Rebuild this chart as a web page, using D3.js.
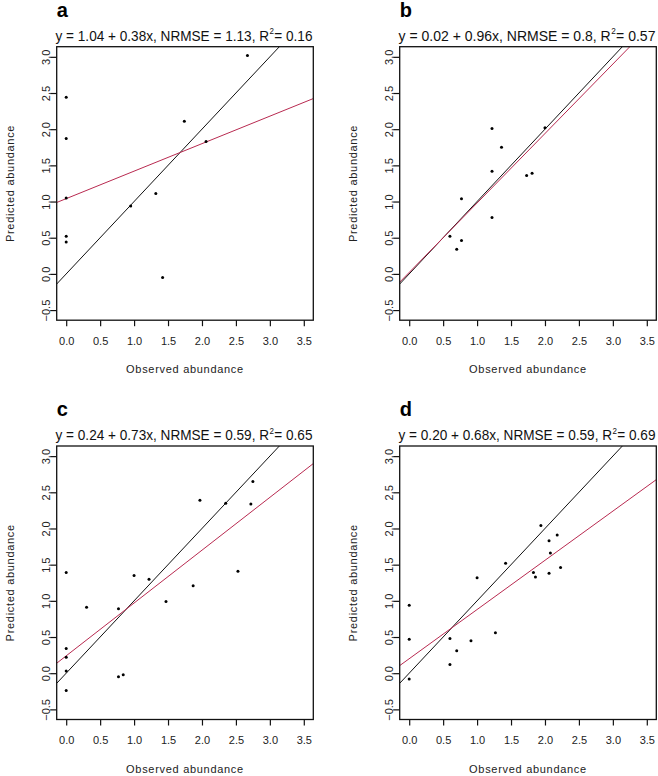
<!DOCTYPE html>
<html><head><meta charset="utf-8">
<script src="https://cdn.jsdelivr.net/npm/d3@7"></script>
<style>body{margin:0;background:#fff}svg{display:block}</style>
</head><body>
<script>
// ---- data ----
const panelLetters = ["a", "b", "c", "d"];
const intercepts = [1.04, 0.02, 0.24, 0.20];
const slopes = [0.38, 0.96, 0.73, 0.68];
const nrmse = ["1.13", "0.8", "0.59", "0.59"];
const r2 = ["0.16", "0.57", "0.65", "0.69"];
const interceptLabels = ["1.04", "0.02", "0.24", "0.20"];
const slopeLabels = ["0.38", "0.96", "0.73", "0.68"];

const obsA = [0, 0, 0, 0, 0, 0.95, 1.32, 1.42, 1.74, 2.06, 2.67];
const predA = [2.44, 1.87, 1.05, 0.52, 0.44, 0.94, 1.11, -0.05, 2.11, 1.83, 3.02];
const obsB = [1.22, 1.36, 2.00, 1.22, 1.73, 1.81, 0.77, 1.22, 0.60, 0.77, 0.70];
const predB = [2.01, 1.75, 2.02, 1.42, 1.36, 1.39, 1.04, 0.78, 0.52, 0.46, 0.34];
const obsC = [2.75, 1.97, 2.35, 2.72, 0, 1.00, 1.22, 2.53, 1.87, 0.30, 0.77, 1.47, 0, 0, 0, 0, 0.77, 0.84];
const predC = [2.65, 2.39, 2.35, 2.34, 1.39, 1.35, 1.30, 1.41, 1.21, 0.91, 0.89, 0.99, 0.34, 0.22, 0.03, -0.24, -0.05, -0.02];
const obsD = [1.94, 2.18, 2.06, 2.08, 1.42, 1.83, 1.86, 2.06, 2.23, 1.00, 0, 0, 0, 0.60, 0.70, 0.91, 0.60, 1.27];
const predD = [2.04, 1.91, 1.83, 1.66, 1.52, 1.39, 1.33, 1.38, 1.46, 1.32, 0.94, 0.47, -0.08, 0.48, 0.31, 0.45, 0.12, 0.56];

const obsAll = [obsA, obsB, obsC, obsD];
const predAll = [predA, predB, predC, predD];
const xTicks = [0, 0.5, 1, 1.5, 2, 2.5, 3, 3.5];
const yTicks = [-0.5, 0, 0.5, 1, 1.5, 2, 2.5, 3];
const xLim = [0, 3.5];
const yLim = [-0.5, 3];
const xLabel = "Observed abundance";
const yLabel = "Predicted abundance";

// ---- layout ----
const W = 658, H = 776;
const svg = d3.select("body").append("svg").attr("width", W).attr("height", H);
const origins = [[56.7, 46.7], [399.7, 46.7], [56.7, 446], [399.7, 446]];
const pw = 256.6, ph = 273.5;
const redCol = "#b82a50";
const fontFam = "Liberation Sans, Arial, sans-serif";
const titleWidth = 257;

function expand(l) { const d = (l[1] - l[0]) * 0.04; return [l[0] - d, l[1] + d]; }

panelLetters.forEach((letter, i) => {
  const [ox, oy] = origins[i];
  const g = svg.append("g").attr("transform", `translate(${ox},${oy})`);
  const x = d3.scaleLinear().domain(expand(xLim)).range([0, pw]);
  const y = d3.scaleLinear().domain(expand(yLim)).range([ph, 0]);

  g.append("defs").append("clipPath").attr("id", "clip" + i)
    .append("rect").attr("width", pw).attr("height", ph);

  const plot = g.append("g").attr("clip-path", `url(#clip${i})`);
  const [x0, x1] = x.domain();
  // 1:1 line
  plot.append("line")
    .attr("x1", x(x0)).attr("y1", y(x0)).attr("x2", x(x1)).attr("y2", y(x1))
    .attr("stroke", "#111").attr("stroke-width", 1);
  // regression line
  const a = intercepts[i], b = slopes[i];
  plot.append("line")
    .attr("x1", x(x0)).attr("y1", y(a + b * x0)).attr("x2", x(x1)).attr("y2", y(a + b * x1))
    .attr("stroke", redCol).attr("stroke-width", 1);

  // points
  const pts = obsAll[i].map((v, k) => [v, predAll[i][k]]);
  plot.selectAll("circle.pt").data(pts).enter().append("circle")
    .attr("class", "pt")
    .attr("cx", d => x(d[0])).attr("cy", d => y(d[1])).attr("r", 1.5)
    .attr("fill", "#000");

  // box
  g.append("rect").attr("width", pw).attr("height", ph)
    .attr("fill", "none").attr("stroke", "#111").attr("stroke-width", 1.3);

  // x axis
  const xa = g.append("g").attr("transform", `translate(0,${ph})`)
    .call(d3.axisBottom(x).tickValues(xTicks).tickFormat(d3.format(".1f")).tickSize(6).tickPadding(11));
  xa.select(".domain").remove();
  xa.selectAll("line").attr("stroke", "#111").attr("stroke-width", 1.2);
  xa.selectAll("text").attr("font-family", fontFam).attr("font-size", 11).attr("fill", "#222");

  // y axis
  const ya = g.append("g")
    .call(d3.axisLeft(y).tickValues(yTicks).tickFormat(d3.format(".1f")).tickSize(6.5).tickPadding(0));
  ya.select(".domain").remove();
  ya.selectAll("line").attr("stroke", "#111").attr("stroke-width", 1.2);
  ya.selectAll("text").remove();
  ya.selectAll(".tick").append("text")
    .attr("transform", "translate(-6.5,0) rotate(-90)")
    .attr("text-anchor", "middle")
    .attr("font-family", fontFam).attr("font-size", 11).attr("fill", "#222")
    .text(d => d3.format(".1f")(d));

  // axis labels
  g.append("text").attr("x", pw / 2).attr("y", ph + 53.3)
    .attr("text-anchor", "middle").attr("font-family", fontFam).attr("font-size", 11)
    .attr("letter-spacing", 0.7).attr("fill", "#222").text(xLabel);
  g.append("text").attr("transform", `translate(-42.7,${ph / 2}) rotate(-90)`)
    .attr("text-anchor", "middle").attr("font-family", fontFam).attr("font-size", 11)
    .attr("letter-spacing", 0.7).attr("fill", "#222").text(yLabel);

  // title: three separate texts laid out side by side, then scaled to width
  const tg = g.append("g");
  const t1 = tg.append("text").attr("x", 0).attr("y", 0)
    .attr("font-family", fontFam).attr("font-size", 14.5).attr("fill", "#111")
    .text(`y = ${interceptLabels[i]} + ${slopeLabels[i]}x, NRMSE = ${nrmse[i]}, R`);
  const w1 = t1.node().getComputedTextLength();
  const t2 = tg.append("text").attr("x", w1 + 0.3).attr("y", -6.5)
    .attr("font-family", fontFam).attr("font-size", 8.5).attr("fill", "#111").text("2");
  const w2 = t2.node().getComputedTextLength();
  const t3 = tg.append("text").attr("x", w1 + w2 + 0.6).attr("y", 0)
    .attr("font-family", fontFam).attr("font-size", 14.5).attr("fill", "#111")
    .text(` = ${r2[i]}`);
  const total = w1 + w2 + 0.6 + t3.node().getComputedTextLength();
  const sx = titleWidth / total;
  tg.attr("transform", `translate(${pw / 2 - 1 - titleWidth / 2},-6) scale(${sx},1)`);

  // panel letter
  g.append("text").attr("x", 0).attr("y", -30).attr("font-family", fontFam)
    .attr("font-size", 20).attr("font-weight", "bold").attr("fill", "#000").text(letter);
});
</script>
</body></html>
